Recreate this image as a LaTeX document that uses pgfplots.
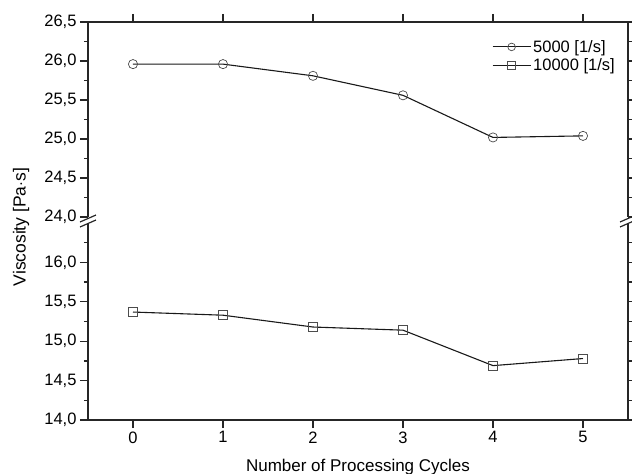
\documentclass[border=0pt]{standalone}
\usepackage{fontspec}
\setmainfont{Liberation Sans}
\usepackage{pgfplots}
\pgfplotsset{compat=1.18}
\usetikzlibrary{calc}

\pgfplotsset{
  brk/.style={
    scale only axis, width=540pt,
    xmin=-0.5, xmax=5.5, xtick={0,1,2,3,4,5},
    tick align=outside,
    major tick length=8pt, minor tick length=4pt,
    axis line style={line width=1.2pt, black!85},
    every tick/.style={line width=1.2pt, black!85},
    ticklabel style={font=\fontsize{16.5}{19}\selectfont},
    yticklabel style={/pgf/number format/.cd, use comma, fixed, fixed zerofill, precision=1},
    /pgf/number format/assume math mode=true,
    clip=false,
  },
  ser/.style={black!90, line width=1.1pt, mark size=4.6pt,
    mark options={fill=white, draw=black!70, line width=0.7pt}},
}

\begin{document}
\begin{tikzpicture}
\begin{axis}[brk, name=lo, height=197pt,
  ymin=14, ymax=16.5,
  ytick={14,14.5,15,15.5,16},
  minor ytick={14.25,14.75,15.25,15.75,16.25},
  axis x line*=bottom, axis y line*=box,
  xlabel={Number of Processing Cycles},
  xlabel style={font=\fontsize{17}{20}\selectfont, at={(axis description cs:0.5,0)}, anchor=base, yshift=-51pt},
]
\addplot[ser, mark=square] coordinates {
  (0,15.37) (1,15.33) (2,15.18) (3,15.14) (4,14.69) (5,14.78)
};
\end{axis}

\begin{axis}[brk, name=up, at={($(lo.north west)+(0,6pt)$)}, anchor=south west,
  height=195pt,
  ymin=24, ymax=26.5,
  ytick={24,24.5,25,25.5,26,26.5},
  minor ytick={24.25,24.75,25.25,25.75,26.25},
  axis x line*=top, axis y line*=box,
  xticklabels={},
  legend style={at={(1,1)}, anchor=north east, xshift=-8pt, yshift=-14pt,
    draw=none, fill=none, font=\fontsize{16.5}{19}\selectfont, row sep=1pt,
    /tikz/every even column/.append style={column sep=2pt}},
  legend cell align=left,
  legend image code/.code={
    \draw[#1, mark size=3.8pt, mark repeat=2, mark phase=2] plot coordinates {(0pt,0pt) (19pt,0pt) (38pt,0pt)};
  },
]
\addplot[ser, mark=o] coordinates {
  (0,25.96) (1,25.96) (2,25.81) (3,25.56) (4,25.02) (5,25.04)
};
\addlegendentry{5000 [1/s]}
\addlegendimage{ser, mark=square}
\addlegendentry{10000 [1/s]}
\end{axis}

% axis break marks
\foreach \a in {lo.north west, lo.north east}{
  \draw[line width=1.2pt, black!85] ($(\a)+(-8pt,1pt)$) -- ($(\a)+(8pt,8pt)$);
  \draw[line width=1.2pt, black!85] ($(\a)+(-8pt,-4pt)$) -- ($(\a)+(8pt,3pt)$);
}

\node[rotate=90, font=\fontsize{17.5}{20}\selectfont] at ($(lo.north west)+(-67pt,-4pt)$) {Viscosity [Pa$\cdot$s]};

\pgfresetboundingbox
\path ($(lo.south west)+(-88pt,-54pt)$) rectangle ++(632pt,474pt);
\end{tikzpicture}
\end{document}
